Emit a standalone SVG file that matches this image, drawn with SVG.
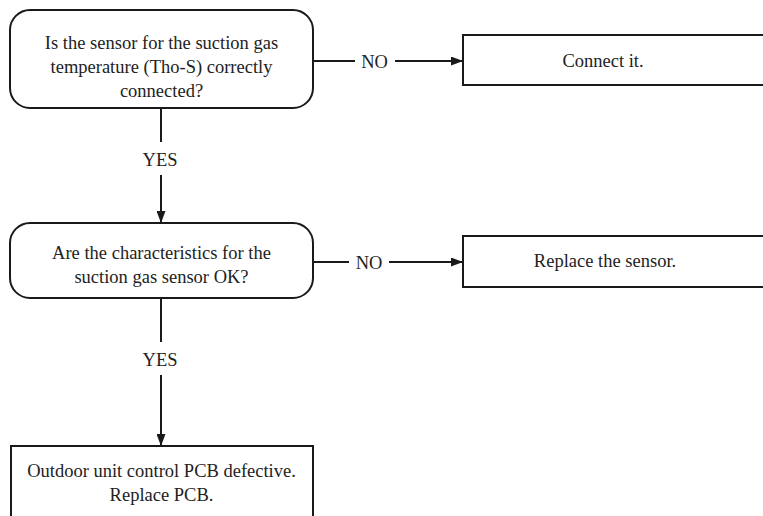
<svg xmlns="http://www.w3.org/2000/svg" width="763" height="516" viewBox="0 0 763 516">
  <defs>
    <marker id="arrow" viewBox="0 0 12 9" refX="12" refY="4.5" markerWidth="12" markerHeight="9" markerUnits="userSpaceOnUse" orient="auto">
      <path d="M0,0 L12,4.5 L0,9 Z" fill="#1a1a1a"/>
    </marker>
    <style>
      .box { fill: #ffffff; stroke: #1a1a1a; stroke-width: 2; }
      .line { fill: none; stroke: #1a1a1a; stroke-width: 2; }
      .txt { font-family: "Liberation Serif", "Times New Roman", serif; font-size: 18.5px; fill: #222222; text-anchor: middle; }
    </style>
  </defs>
  <rect width="763" height="516" fill="#ffffff"/>

  <g id="q-sensor-connected">
    <rect class="box" x="10" y="10" width="303" height="98" rx="20" ry="20"/>
    <text class="txt" x="161.5" y="49">Is the sensor for the suction gas</text>
    <text class="txt" x="161.5" y="73">temperature (Tho-S) correctly</text>
    <text class="txt" x="161.5" y="97">connected?</text>
  </g>

  <g id="a-connect">
    <rect class="box" x="463" y="35" width="320" height="50"/>
    <text class="txt" x="603" y="67">Connect it.</text>
  </g>

  <g id="q-characteristics">
    <rect class="box" x="10" y="223" width="303" height="75" rx="20" ry="20"/>
    <text class="txt" x="161.5" y="259">Are the characteristics for the</text>
    <text class="txt" x="161.5" y="283">suction gas sensor OK?</text>
  </g>

  <g id="a-replace-sensor">
    <rect class="box" x="463" y="236" width="320" height="51"/>
    <text class="txt" x="605" y="267">Replace the sensor.</text>
  </g>

  <g id="a-replace-pcb">
    <rect class="box" x="11" y="446" width="302" height="90"/>
    <text class="txt" x="161.5" y="477">Outdoor unit control PCB defective.</text>
    <text class="txt" x="161.5" y="501">Replace PCB.</text>
  </g>

  <g id="connectors">
    <!-- first decision: NO branch -->
    <line class="line" x1="313" y1="61" x2="355" y2="61"/>
    <text class="txt" x="374.5" y="67.5">NO</text>
    <line class="line" x1="395" y1="61" x2="463" y2="61" marker-end="url(#arrow)"/>
    <!-- first decision: YES branch -->
    <line class="line" x1="161" y1="108" x2="161" y2="142"/>
    <text class="txt" x="160" y="165.5">YES</text>
    <line class="line" x1="161" y1="175" x2="161" y2="223" marker-end="url(#arrow)"/>
    <!-- second decision: NO branch -->
    <line class="line" x1="313" y1="262" x2="349" y2="262"/>
    <text class="txt" x="369" y="268.5">NO</text>
    <line class="line" x1="389" y1="262" x2="463" y2="262" marker-end="url(#arrow)"/>
    <!-- second decision: YES branch -->
    <line class="line" x1="161" y1="298" x2="161" y2="342"/>
    <text class="txt" x="160" y="365.5">YES</text>
    <line class="line" x1="161" y1="375" x2="161" y2="446" marker-end="url(#arrow)"/>
  </g>
</svg>
